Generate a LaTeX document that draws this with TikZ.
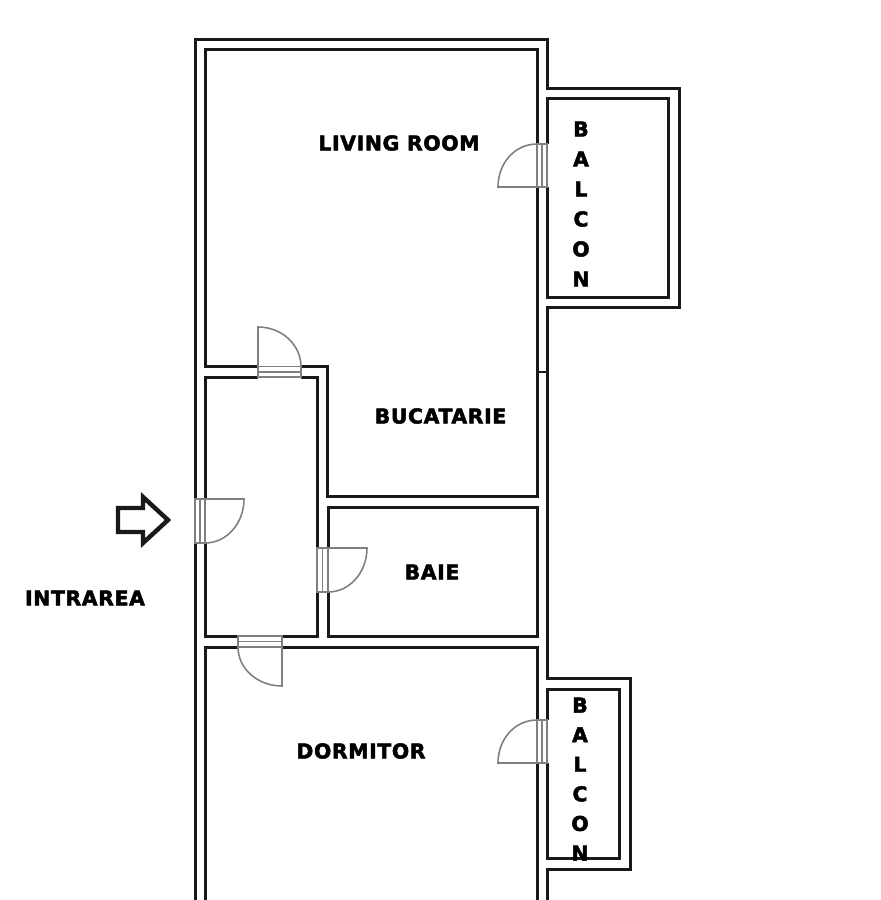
\documentclass[tikz,border=0pt]{standalone}
\usepackage{fontspec}
\setmainfont{DejaVu Sans}[BoldFeatures={FakeBold=2.4,LetterSpace=3}]

\begin{document}
\begin{tikzpicture}[x=1pt, y=-1pt, line width=3pt,
	wall/.style={draw=black!90, line join=miter},
	door/.style={draw=black!50, line width=1.6pt},
	room/.style={font=\bfseries\fontsize{20.4}{20.4}\selectfont, inner sep=0pt, text=black}]
		\clip (0, 0) rectangle (881, 900);

		% outer walls
		\draw[wall] (195, 499) -- (195, 39) -- (547, 39) -- (547, 88) -- (679, 88) -- (679, 307.5) -- (547, 307.5) -- (547, 678) -- (630, 678) -- (630, 869) -- (547, 869) -- (547, 910);
		\draw[wall] (195, 543) -- (195, 910);

		% living room and bucatarie
		\draw[wall] (537, 144) -- (537, 49) -- (205, 49) -- (205, 366.5) -- (258, 366.5);
		\draw[wall] (301, 366.5) -- (327.5, 366.5) -- (327.5, 496) -- (537, 496) -- (537, 187);
		\draw[wall, line width=2pt] (537, 372) -- (547, 372);

		% hall
		\draw[wall] (258, 377) -- (205, 377) -- (205, 499);
		\draw[wall] (205, 543) -- (205, 636) -- (238, 636);
		\draw[wall] (282, 636) -- (317, 636) -- (317, 592);
		\draw[wall] (317, 548) -- (317, 377) -- (301, 377);

		% baie
		\draw[wall] (328, 548) -- (328, 507.5) -- (537, 507.5) -- (537, 636) -- (328, 636) -- (328, 592);

		% dormitor
		\draw[wall] (238, 647) -- (205, 647) -- (205, 910);
		\draw[wall] (282, 647) -- (537, 647) -- (537, 720);
		\draw[wall] (537, 763) -- (537, 910);

		% balcon
		\draw[wall] (547, 144) -- (547, 98) -- (668, 98) -- (668, 297) -- (547, 297) -- (547, 187);
		\draw[wall] (547, 720) -- (547, 689) -- (619, 689) -- (619, 858) -- (547, 858) -- (547, 763);

		% doors
		\draw[door] (537, 144) rectangle (547, 187);
		\draw[door] (542, 144) -- (542, 187);
		\draw[door] (537, 187) -- (498, 187) .. controls (498, 163) and (515, 144) .. (537, 144);

		\draw[door] (537, 720) rectangle (547, 763);
		\draw[door] (542, 720) -- (542, 763);
		\draw[door] (537, 763) -- (498, 763) .. controls (498, 739) and (515, 720) .. (537, 720);

		\draw[door] (258, 366.5) rectangle (301, 377);
		\draw[door] (258, 372) -- (301, 372);
		\draw[door] (258, 366.5) -- (258, 327) .. controls (282, 327) and (301, 345) .. (301, 366.5);

		\draw[door] (195, 499) rectangle (205, 543);
		\draw[door] (200, 499) -- (200, 543);
		\draw[door] (205, 499) -- (244, 499) .. controls (244, 523) and (227, 543) .. (205, 543);

		\draw[door] (317, 548) rectangle (328, 592);
		\draw[door] (322.5, 548) -- (322.5, 592);
		\draw[door] (328, 548) -- (367, 548) .. controls (367, 572) and (350, 592) .. (328, 592);

		\draw[door] (238, 636) rectangle (282, 647);
		\draw[door] (238, 641.5) -- (282, 641.5);
		\draw[door] (282, 647) -- (282, 686) .. controls (258, 686) and (238, 669) .. (238, 647);

		% entrance arrow
		\draw[line width=4.4pt, line join=miter, draw=black!90] (118, 508) -- (143, 508) -- (143, 497) -- (168, 520) -- (143, 543) -- (143, 532) -- (118, 532) -- cycle;

		\node[room] (living) at (399, 143) {LIVING ROOM};
		\node[room] (bucatarie) at (440.5, 416) {BUCATARIE};
		\node[room] (baie) at (432, 572) {BAIE};
		\node[room] (dormitor) at (361, 751) {DORMITOR};
		\node[room] (intrarea) at (85, 598) {INTRAREA};

		\foreach \ch [count=\i] in {B, A, L, C, O, N} {
			\node[room] (balconup\i) at (581, 99 + 30*\i) {\ch};
			\node[room] (balcondown\i) at (580, 675.5 + 29.6*\i) {\ch};
		}

\end{tikzpicture}
\end{document}
